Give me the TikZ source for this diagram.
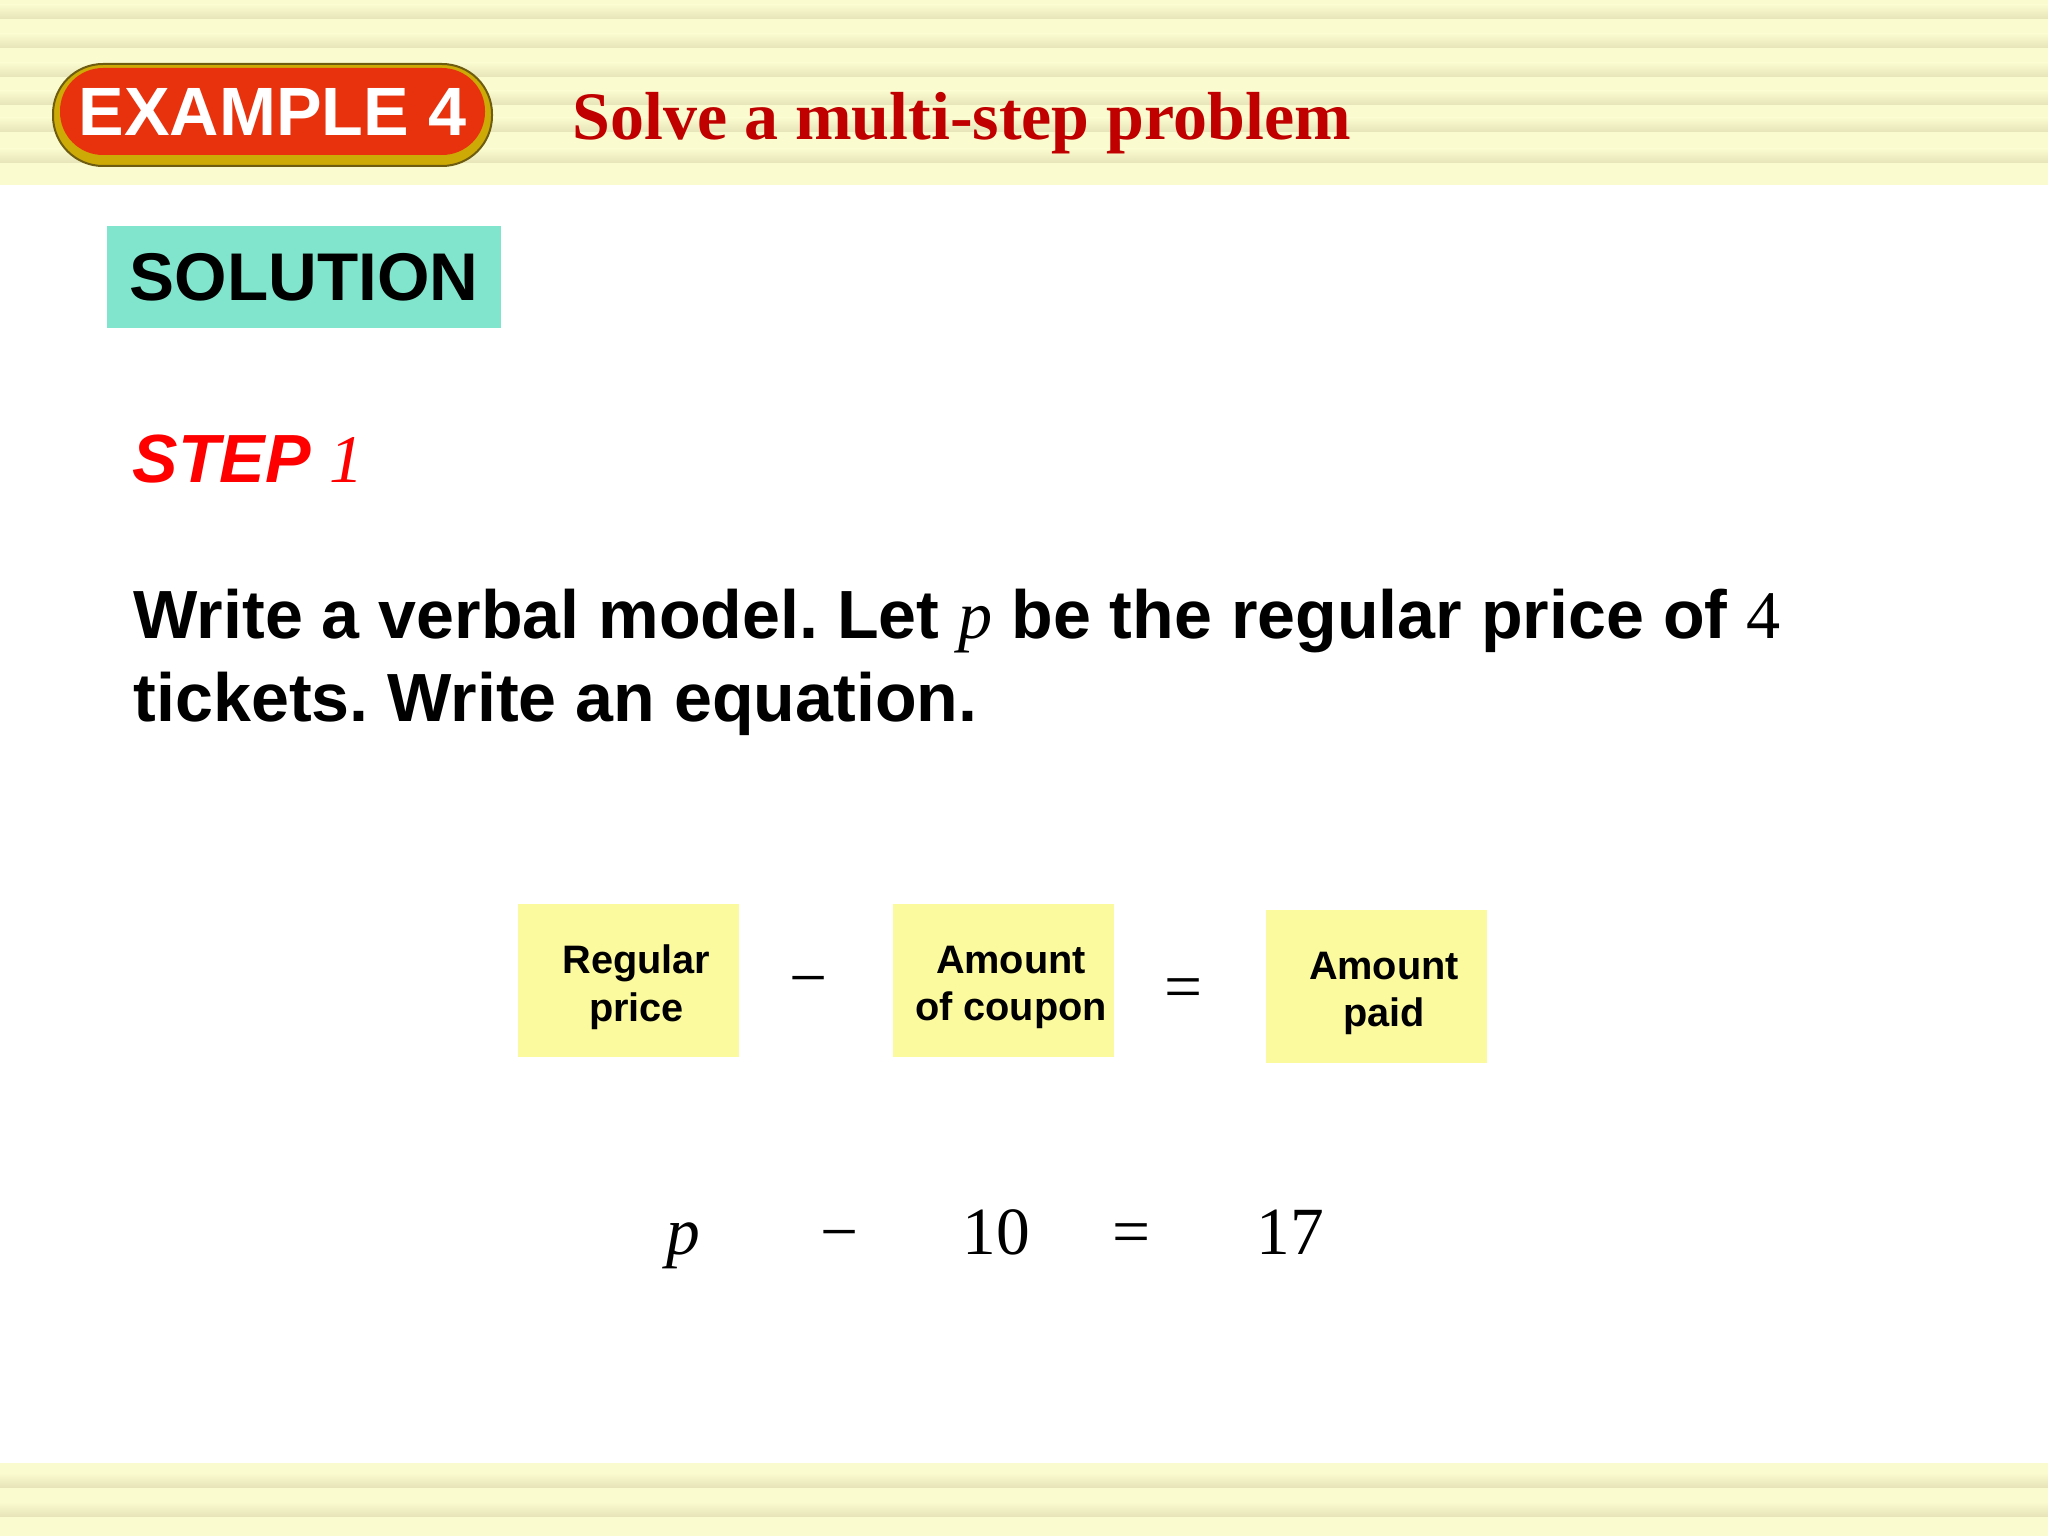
\documentclass[tikz,border=0pt]{standalone}
\usepackage{fontspec}
\setmainfont{Liberation Serif}
\setsansfont{Liberation Sans}
\frenchspacing

\definecolor{bandyellow}{HTML}{FBFBD0}
\definecolor{stripe}{HTML}{E6E4B8}
\definecolor{badgered}{HTML}{E8320E}
\definecolor{badgegold}{HTML}{CDAA05}
\definecolor{badgeedge}{HTML}{6E5C10}
\definecolor{titlered}{HTML}{C00000}
\definecolor{solgreen}{HTML}{80E5CC}
\definecolor{boxyellow}{HTML}{FBFA9F}

\tikzset{
    badgerim/.style={fill=badgegold, draw=badgeedge, line width=0.02cm, rounded corners=0.5cm,
        minimum width=4.39cm, minimum height=1.02cm, inner sep=0pt},
    badge/.style={fill=badgered, rounded corners=0.43cm, minimum width=4.25cm, minimum height=0.87cm,
        inner sep=0pt, text=white, font=\sffamily\bfseries\fontsize{19.45}{23.6}\selectfont},
    headline/.style={text=titlered, inner sep=0pt, font=\rmfamily\bfseries\fontsize{19.33}{23.6}\selectfont},
    solbox/.style={fill=solgreen, minimum width=3.94cm, minimum height=1.02cm, inner sep=0pt,
        font=\sffamily\bfseries\fontsize{19.2}{23.6}\selectfont},
    bigtext/.style={inner sep=0pt, anchor=base west, font=\sffamily\bfseries\fontsize{19.4}{23.6}\selectfont},
    wordbox/.style={fill=boxyellow, minimum width=2.21cm, minimum height=1.53cm, inner sep=0pt},
    boxtext/.style={inner sep=0pt, align=center, font=\sffamily\bfseries\fontsize{11.3}{13.6}\selectfont},
    op/.style={inner sep=0pt, anchor=base, font=\rmfamily\fontsize{19.2}{23.6}\selectfont}
}

\begin{document}
\begin{tikzpicture}
                \useasboundingbox (0, 0) rectangle (20.48, -15.36);

                % striped bands
                \fill[bandyellow] (0, 0) rectangle (20.48, -1.85);
                \fill[bandyellow] (0, -14.63) rectangle (20.48, -15.36);
                \foreach \y in {0.17, 0.46, 0.75, 1.03, 1.30, 1.61, 14.85, 15.14}
                    \shade[top color=bandyellow, bottom color=stripe] (0, -\y+0.12) rectangle (20.48, -\y-0.02);

                % header
                \node[badgerim] (rim) at (2.725, -1.15) {};
                \node[badge] (example) at (2.725, -1.115) {EXAMPLE 4};
                \node[headline, anchor=base west] (title) at (5.72, -1.40) {Solve a multi-step problem};

                \node[solbox] (solution) at (3.04, -2.77) {SOLUTION};

                \node[bigtext, text=red] (step) at (1.32, -4.82) {\itshape STEP {\rmfamily\mdseries 1}};

                \node[bigtext] (line1) at (1.33, -6.39) {Write a verbal model. Let {\rmfamily\mdseries\itshape p} be the regular price of {\rmfamily\mdseries 4}};
                \node[bigtext] (line2) at (1.33, -7.22) {tickets. Write an equation.};

                % verbal model
                \node[wordbox] (price) at (6.285, -9.805) {};
                \node[boxtext] (pricetext) at ([xshift=0.08cm, yshift=-0.07cm]price.center) {Regular\\price};
                \node[op] (minus1) at (8.085, -10.00) {\char"2212};
                \node[wordbox] (coupon) at (10.03, -9.805) {};
                \node[boxtext] (coupontext) at ([xshift=0.08cm, yshift=-0.07cm]coupon.center) {Amount\\of coupon};
                \node[op] (equal1) at (11.835, -10.09) {=};
                \node[wordbox] (paid) at (13.76, -9.865) {};
                \node[boxtext] (paidtext) at ([xshift=0.08cm, yshift=-0.07cm]paid.center) {Amount\\paid};

                % equation
                \node[op] (p) at (6.83, -12.54) {\itshape p};
                \node[op] (minus2) at (8.40, -12.54) {\char"2212};
                \node[op] (ten) at (9.96, -12.54) {10};
                \node[op] (equal2) at (11.32, -12.54) {=};
                \node[op] (seventeen) at (12.90, -12.54) {17};

            \end{tikzpicture}
\end{document}
